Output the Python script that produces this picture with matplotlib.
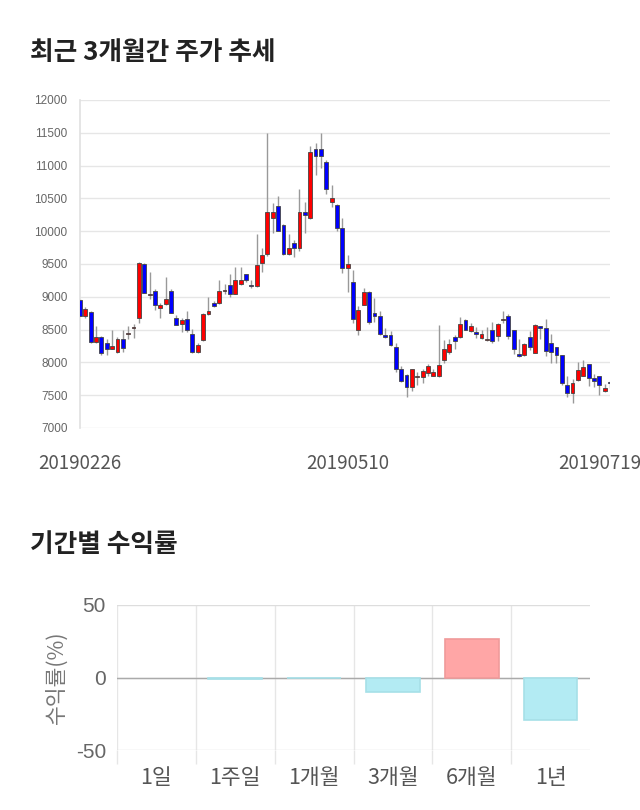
import numpy as np
import matplotlib
matplotlib.use('Agg')
import matplotlib.pyplot as plt
import matplotlib.transforms as mtransforms

plt.rcParams['font.family'] = ['Noto Sans CJK KR', 'DejaVu Sans']
plt.rcParams['axes.unicode_minus'] = False

# Step 1: data (daily candles)
opens = [8950, 8710, 8770, 8310, 8390, 8300, 8210, 8160, 8350, 8440,
         8520, 8680, 9500, 9030, 9090, 8830, 8890, 9090, 8680, 8580,
         8660, 8430, 8160, 8340, 8740, 8900, 8900, 9090, 9180, 9050,
         9190, 9340, 9180, 9160, 9510, 9650, 10200, 10390, 10100, 9660,
         9820, 9750, 10300, 10200, 11250, 11250, 11050, 10450, 10400, 10050,
         9440, 9220, 8500, 8880, 9080, 8750, 8700, 8420, 8420, 8230,
         7900, 7810, 7620, 7770, 7770, 7840, 7800, 7790, 8030, 8160,
         8380, 8380, 8650, 8480, 8460, 8370, 8340, 8490, 8400, 8640,
         8710, 8490, 8130, 8110, 8380, 8150, 8550, 8520, 8300, 8230,
         8110, 7650, 7530, 7730, 7800, 7970, 7760, 7790, 7560, 7690]
highs = [8960, 8840, 8780, 8550, 8400, 8360, 8490, 8380, 8490, 8560,
         8590, 9530, 9510, 9380, 9120, 8900, 9300, 9120, 8720, 8680,
         8790, 8510, 8290, 8760, 8990, 8940, 9250, 9190, 9350, 9450,
         9450, 9350, 9250, 9960, 9740, 11500, 10430, 10540, 10110, 9960,
         9870, 10640, 10440, 11300, 11350, 11500, 11090, 10700, 10410, 10200,
         9640, 9410, 8860, 9130, 9090, 8980, 8780, 8530, 8480, 8290,
         7940, 7820, 7900, 7860, 7900, 7970, 7900, 8570, 8340, 8350,
         8420, 8690, 8660, 8600, 8540, 8490, 8540, 8620, 8600, 8790,
         8740, 8500, 8360, 8290, 8480, 8590, 8560, 8660, 8430, 8240,
         8120, 7800, 7740, 8000, 8030, 7980, 7820, 7800, 7670, 7720]
lows = [8700, 8670, 8290, 8300, 8110, 8110, 8200, 8140, 8160, 8350,
        8370, 8600, 9060, 8960, 8800, 8670, 8880, 8750, 8570, 8470,
        8460, 8150, 8150, 8330, 8730, 8850, 8890, 9050, 8990, 9040,
        9180, 9230, 9140, 9150, 9380, 9620, 9980, 10000, 9640, 9640,
        9600, 9700, 9980, 10190, 10860, 10960, 10560, 10370, 10000, 9360,
        9070, 8600, 8420, 8870, 8590, 8620, 8420, 8370, 8250, 7850,
        7700, 7470, 7560, 7650, 7690, 7800, 7790, 7780, 7990, 8130,
        8200, 8370, 8490, 8470, 8370, 8350, 8330, 8300, 8320, 8600,
        8350, 8130, 8080, 8100, 8190, 8140, 8350, 8090, 7990, 7990,
        7660, 7480, 7380, 7720, 7790, 7640, 7630, 7510, 7550, 7610]
closes = [8700, 8820, 8310, 8390, 8150, 8210, 8250, 8350, 8220, 8450,
          8530, 9510, 9060, 9040, 8880, 8880, 8960, 8750, 8570, 8650,
          8500, 8160, 8260, 8740, 8780, 8860, 9090, 9110, 9040, 9260,
          9260, 9250, 9160, 9490, 9640, 10300, 10300, 10000, 9660, 9750,
          9750, 10300, 10240, 11200, 11150, 11150, 10650, 10500, 10050, 9440,
          9500, 8660, 8800, 9080, 8610, 8700, 8430, 8380, 8260, 7900,
          7710, 7620, 7900, 7800, 7870, 7950, 7850, 7960, 8200, 8280,
          8330, 8590, 8500, 8550, 8430, 8430, 8360, 8330, 8580, 8660,
          8410, 8200, 8100, 8280, 8230, 8570, 8530, 8180, 8160, 8110,
          7690, 7530, 7680, 7880, 7930, 7760, 7710, 7660, 7610, 7680]
date_labels = ['20190226', '20190510', '20190719']
date_index = [0, 50, 99]

periods = ['1일', '1주일', '1개월', '3개월', '6개월', '1년']
returns = [0.0, -0.7, -0.5, -9.8, 26.8, -29.2]

# Step 2: figure
fig = plt.figure(figsize=(6.4, 8.1), dpi=100)

fig.text(30 / 640, 1 - 52 / 810, '최근 3개월간 주가 추세', fontsize=18.5,
         fontweight='bold', color='#222222', va='center', ha='left')
fig.text(30 / 640, 1 - 545 / 810, '기간별 수익률', fontsize=18.5,
         fontweight='bold', color='#222222', va='center', ha='left')

# Step 3: candlestick chart
ax = fig.add_axes([80 / 640, 1 - 428 / 810, 530 / 640, 328 / 810])
x = np.arange(len(opens))
o = np.array(opens)
h = np.array(highs)
l = np.array(lows)
c = np.array(closes)
up = c >= o
colors = np.where(up, '#ff0000', '#0000ff')
body_bottom = np.minimum(o, c)
body_height = np.maximum(np.abs(c - o), 15)

ax.vlines(x, l, h, color='#999999', linewidth=1, zorder=2)
ax.bar(x, body_height, bottom=body_bottom, width=0.72, color=colors,
       edgecolor='#444444', linewidth=0.6, zorder=3)

ax.set_xlim(0, 99)
ax.set_ylim(7000, 12000)
ax.set_yticks(np.arange(7000, 12001, 500))
ax.yaxis.grid(True, color='#e6e6e6', linewidth=1)
ax.set_axisbelow(True)
for side in ['top', 'right', 'bottom']:
    ax.spines[side].set_visible(False)
ax.spines['left'].set_color('#e0e0e0')
ax.spines['left'].set_linewidth(1.2)
ax.tick_params(axis='y', length=0, pad=9, labelsize=8.5, labelcolor='#666666')
for lab in ax.get_yticklabels():
    lab.set_fontfamily('Liberation Sans')
ax.set_xticks(date_index)
ax.set_xticklabels(date_labels)
ax.tick_params(axis='x', length=0, pad=18, labelsize=13.5, labelcolor='#555555')
last = ax.get_xticklabels()[-1]
last.set_transform(last.get_transform() + mtransforms.ScaledTranslation(-10 / 100, 0, fig.dpi_scale_trans))

# Step 4: period returns bar chart
ax2 = fig.add_axes([117 / 640, 1 - 750 / 810, 473 / 640, 145 / 810])
pos = np.arange(len(periods))
vals = np.array(returns)
bar_colors = np.where(vals >= 0, '#ffa6a6', '#b3ebf3')
edge_colors = np.where(vals > 0, '#f09a9a', np.where(vals < 0, '#a6e0e8', 'none'))
ax2.axhline(0, color='#aaaaaa', linewidth=1, zorder=2.5)
ax2.bar(pos, vals, width=0.68, color=bar_colors, edgecolor=edge_colors,
        linewidth=1.2, zorder=3)

ax2.set_xlim(-0.5, 5.5)
ax2.set_ylim(-50, 50)
ax2.set_yticks([-50, 0, 50])
ax2.set_xticks(pos)
ax2.set_xticklabels(periods)
ax2.set_xticks(np.arange(-0.5, 5, 1), minor=True)
ax2.xaxis.grid(True, which='minor', color='#e6e6e6', linewidth=1)
ax2.yaxis.grid(True, color='#dddddd', linewidth=1)
ax2.set_axisbelow(True)
for side in ['top', 'right', 'bottom', 'left']:
    ax2.spines[side].set_visible(False)
ax2.tick_params(axis='x', which='major', length=0, pad=12, labelsize=15.5,
                labelcolor='#555555')
ax2.tick_params(axis='x', which='minor', length=10, color='#e6e6e6', width=1)
ax2.tick_params(axis='y', length=0, pad=8, labelsize=15, labelcolor='#666666')
for lab in ax2.get_yticklabels():
    lab.set_fontfamily('Liberation Sans')
ax2.set_ylabel('수익률(%)', fontsize=15.5, color='#777777', labelpad=6)

fig.savefig('out.png', dpi=100)
